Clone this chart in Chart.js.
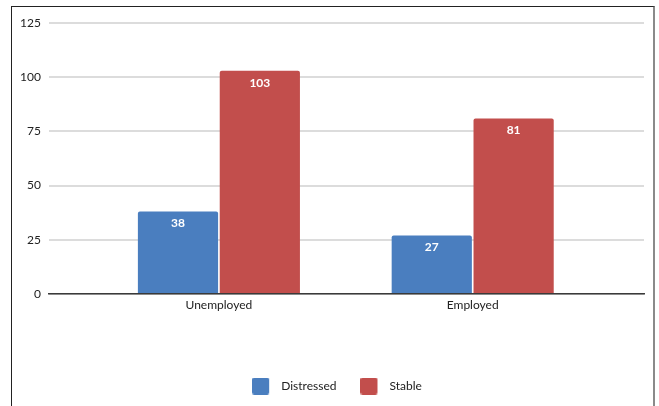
<!DOCTYPE html>
<html>
<head>
<meta charset="utf-8">
<script src="https://cdn.jsdelivr.net/npm/chart.js@4/dist/chart.umd.min.js"></script>
<style>
  html, body { margin: 0; padding: 0; background: #fff; }
  #wrap { position: relative; width: 659px; height: 406px; overflow: hidden; }
  #frame {
    position: absolute; left: 11px; top: 6px; width: 644px; height: 420px;
    border-left: 1px solid #222; border-top: 1px solid #222; border-right: 2px solid #8a8a8a;
    box-sizing: border-box; pointer-events: none;
  }
  canvas { position: absolute; left: 0; top: 0; }
</style>
</head>
<body>
<div id="wrap">
  <canvas id="chart" width="659" height="406"></canvas>
  <div id="frame"></div>
</div>
<script>
var categories = ['Unemployed', 'Employed'];
var seriesNames = ['Distressed', 'Stable'];
var distressed = [38, 27];
var stable = [103, 81];
var yTicks = [0, 25, 50, 75, 100, 125];

var colors = ['#4a7ebf', '#c24e4c'];
var FONT = 'Lato, "Open Sans", sans-serif';

function toPoints(values) {
  return values.map(function (v, i) { return { x: i, y: v }; });
}

// legend swatch: 17px rounded square on the left of a 23px wide canvas,
// the empty right part leaves a wider gap before the label text
function swatch(color) {
  var c = document.createElement('canvas');
  c.width = 23;
  c.height = 17;
  var g = c.getContext('2d');
  g.fillStyle = color;
  g.beginPath();
  g.roundRect(0, 0, 17, 17, 2);
  g.fill();
  return c;
}

// white value labels just inside the top of each bar
var barLabels = {
  id: 'barLabels',
  afterDatasetsDraw: function (chart) {
    var ctx = chart.ctx;
    ctx.save();
    ctx.fillStyle = '#fff';
    ctx.font = 'bold 12px ' + FONT;
    ctx.textAlign = 'center';
    ctx.textBaseline = 'middle';
    chart.data.datasets.forEach(function (ds, di) {
      chart.getDatasetMeta(di).data.forEach(function (bar, i) {
        ctx.fillText(String(ds.data[i].y), bar.x, bar.y + 12);
      });
    });
    ctx.restore();
  }
};

// nudge the legend a little right of the canvas centre
var legendShift = {
  id: 'legendShift',
  afterLayout: function (chart) {
    if (!chart.legend) return;
    chart.legend.left += 9;
    chart.legend.right += 9;
  }
};

new Chart(document.getElementById('chart'), {
  type: 'bar',
  data: {
    datasets: [
      { label: seriesNames[0], data: toPoints(distressed), backgroundColor: colors[0] },
      { label: seriesNames[1], data: toPoints(stable), backgroundColor: colors[1] }
    ]
  },
  options: {
    responsive: false,
    animation: false,
    categoryPercentage: 0.645,
    barPercentage: 0.98,
    borderRadius: 2,
    layout: { padding: { left: 12, right: 15, top: 23, bottom: 4 } },
    scales: {
      x: {
        type: 'linear',
        bounds: 'data',
        offset: false,
        min: -0.67,
        max: 1.675,
        afterBuildTicks: function (scale) {
          scale.ticks = categories.map(function (_, i) { return { value: i }; });
        },
        afterFit: function (scale) { scale.height = 62; },
        grid: { display: false, drawTicks: false },
        border: { display: true, color: '#3a3a3a', width: 1.5 },
        ticks: {
          color: '#222',
          padding: 4,
          font: { family: FONT, size: 12 },
          callback: function (v) { return categories[v]; }
        }
      },
      y: {
        min: 0,
        max: 125,
        afterBuildTicks: function (scale) {
          scale.ticks = yTicks.map(function (v) { return { value: v }; });
        },
        grid: { color: '#dcdcdc', lineWidth: 2, drawTicks: false },
        border: { display: false },
        ticks: { color: '#222', padding: 8, font: { family: FONT, size: 12 } }
      }
    },
    plugins: {
      legend: {
        position: 'bottom',
        labels: {
          usePointStyle: true,
          pointStyleWidth: 23,
          padding: 24,
          color: '#222',
          font: { family: FONT, size: 12 },
          generateLabels: function (chart) {
            return Chart.defaults.plugins.legend.labels.generateLabels(chart).map(function (item) {
              item.pointStyle = swatch(colors[item.datasetIndex]);
              return item;
            });
          }
        }
      },
      tooltip: { enabled: false }
    }
  },
  plugins: [barLabels, legendShift]
});
</script>
</body>
</html>
